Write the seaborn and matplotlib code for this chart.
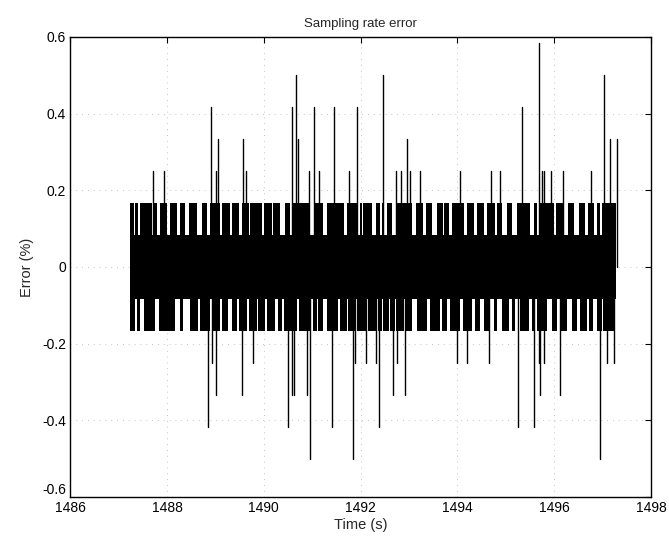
import numpy as np
import pandas as pd
import matplotlib
matplotlib.use("Agg")
import matplotlib.pyplot as plt
import matplotlib.transforms as mtransforms
import seaborn as sns

# quantisation levels (%)
core_level = 0.0833
band_level = 0.1667
t_start = 1487.24
t_end = 1497.28

# time spans where the error reaches +band_level
upper_blocks = [
    (1487.24, 1487.31), (1487.34, 1487.41), (1487.45, 1487.69), (1487.74, 1487.79),
    (1487.86, 1488.00), (1488.07, 1488.20), (1488.27, 1488.38), (1488.45, 1488.62),
    (1488.72, 1488.82), (1488.89, 1489.10), (1489.13, 1489.31), (1489.34, 1489.48),
    (1489.55, 1489.69), (1489.72, 1489.96), (1490.01, 1490.17), (1490.20, 1490.34),
    (1490.44, 1490.55), (1490.58, 1490.96), (1491.03, 1491.23), (1491.30, 1491.65),
    (1491.72, 1491.92), (1491.99, 1492.03), (1492.06, 1492.23), (1492.32, 1492.41),
    (1492.44, 1492.47), (1492.54, 1492.65), (1492.74, 1493.06), (1493.15, 1493.30),
    (1493.36, 1493.47), (1493.58, 1493.70), (1493.73, 1493.82), (1493.89, 1494.13),
    (1494.19, 1494.34), (1494.41, 1494.55), (1494.61, 1494.78), (1494.82, 1494.92),
    (1495.02, 1495.13), (1495.24, 1495.50), (1495.59, 1495.65), (1495.70, 1495.99),
    (1496.03, 1496.18), (1496.28, 1496.42), (1496.52, 1496.64), (1496.70, 1496.82),
    (1496.88, 1496.95), (1496.99, 1497.28),
]

# time spans where the error reaches -band_level
lower_blocks = [
    (1487.24, 1487.34), (1487.38, 1487.45), (1487.52, 1487.76), (1487.83, 1488.17),
    (1488.26, 1488.34), (1488.48, 1488.65), (1488.69, 1488.89), (1488.93, 1489.10),
    (1489.13, 1489.27), (1489.34, 1489.44), (1489.48, 1489.65), (1489.69, 1489.86),
    (1489.89, 1490.03), (1490.06, 1490.24), (1490.30, 1490.37), (1490.41, 1490.68),
    (1490.72, 1490.96), (1491.01, 1491.10), (1491.13, 1491.23), (1491.30, 1491.54),
    (1491.58, 1491.72), (1491.75, 1491.89), (1491.92, 1492.13), (1492.16, 1492.34),
    (1492.37, 1492.44), (1492.47, 1492.58), (1492.61, 1492.71), (1492.74, 1492.89),
    (1492.94, 1493.06), (1493.16, 1493.37), (1493.44, 1493.64), (1493.68, 1493.78),
    (1493.85, 1494.06), (1494.11, 1494.30), (1494.37, 1494.47), (1494.54, 1494.68),
    (1494.75, 1494.82), (1494.92, 1495.06), (1495.13, 1495.19), (1495.30, 1495.47),
    (1495.54, 1495.61), (1495.64, 1495.85), (1495.95, 1496.06), (1496.12, 1496.26),
    (1496.36, 1496.47), (1496.54, 1496.68), (1496.71, 1496.81), (1496.88, 1496.98),
    (1497.00, 1497.26),
]

# isolated outliers beyond the band
spike_times = [
    1487.72, 1487.93, 1488.91, 1489.02, 1489.06, 1489.58, 1489.64, 1490.58,
    1490.67, 1490.70, 1490.94, 1491.04, 1491.14, 1491.46, 1491.77, 1491.92,
    1492.47, 1492.73, 1492.83, 1492.96, 1493.02, 1493.23, 1494.06, 1494.69,
    1494.88, 1495.33, 1495.68, 1495.75, 1495.80, 1495.93, 1496.18, 1496.76,
    1497.04, 1497.16, 1497.29,
    1488.84, 1488.93, 1489.02, 1489.55, 1489.77, 1490.51, 1490.58, 1490.63,
    1490.89, 1490.96, 1491.40, 1491.85, 1491.89, 1492.12, 1492.32, 1492.38,
    1492.67, 1492.76, 1492.91, 1494.00, 1494.20, 1494.66, 1495.25, 1495.59,
    1495.68, 1495.70, 1495.78, 1496.13, 1496.95, 1497.10, 1497.24,
]
spike_values = [
    0.25, 0.25, 0.417, 0.25, 0.333, 0.333, 0.25, 0.417,
    0.5, 0.333, 0.25, 0.417, 0.25, 0.417, 0.25, 0.417,
    0.5, 0.25, 0.25, 0.333, 0.25, 0.25, 0.25, 0.25,
    0.25, 0.417, 0.583, 0.25, 0.25, 0.25, 0.25, 0.25,
    0.5, 0.333, 0.333,
    -0.417, -0.25, -0.333, -0.333, -0.25, -0.417, -0.333, -0.333,
    -0.333, -0.5, -0.417, -0.5, -0.25, -0.25, -0.25, -0.417,
    -0.333, -0.25, -0.333, -0.25, -0.25, -0.25, -0.417, -0.417,
    -0.25, -0.333, -0.25, -0.333, -0.5, -0.25, -0.25,
]

x_ticks = [1486, 1488, 1490, 1492, 1494, 1496, 1498]
y_ticks = [-0.6, -0.4, -0.2, 0, 0.2, 0.4, 0.6]
y_tick_labels = ["-0.6", "-0.4", "-0.2", "0", "0.2", "0.4", "0.6"]

sns.set_style("white")
plt.rcParams["font.family"] = ["Liberation Sans", "DejaVu Sans"]
plt.rcParams["axes.unicode_minus"] = False

fig = plt.figure(figsize=(6.69, 5.36), dpi=100)
ax = fig.add_axes([0.105, 0.073, 0.868, 0.858])

# solid core of the signal
ax.fill_between([t_start, t_end], -core_level, core_level, color="black", lw=0)

up = pd.DataFrame(upper_blocks, columns=["t0", "t1"])
lo = pd.DataFrame(lower_blocks, columns=["t0", "t1"])
ax.bar(x=up["t0"], height=band_level - core_level, width=up["t1"] - up["t0"],
       bottom=core_level, align="edge", color="black", lw=0)
ax.bar(x=lo["t0"], height=band_level - core_level, width=lo["t1"] - lo["t0"],
       bottom=-band_level, align="edge", color="black", lw=0)

spikes = pd.DataFrame({
    "spike": np.repeat(np.arange(len(spike_times)), 2),
    "time": np.repeat(spike_times, 2),
    "error": np.column_stack([np.zeros(len(spike_values)), spike_values]).ravel(),
})
sns.lineplot(data=spikes, x="time", y="error", units="spike", estimator=None,
             color="black", linewidth=1.0, ax=ax)

ax.set_xlim(1486, 1498)
ax.set_ylim(-0.6, 0.6)
ax.set_xticks(x_ticks)
ax.set_yticks(y_ticks)
ax.set_yticklabels(y_tick_labels)
ax.grid(True, linestyle=(0, (1, 6)), color="#b0b0b0", linewidth=0.6)
ax.set_axisbelow(True)
ax.tick_params(direction="in", length=4, top=True, right=True,
               labelsize=10, colors="black")
ax.tick_params(axis="x", pad=3)
ax.tick_params(axis="y", pad=3)
for s in ax.spines.values():
    s.set_color("black")
    s.set_linewidth(1.0)

# lift the bottom y label clear of the first x label, as in the original
shift = mtransforms.ScaledTranslation(0, 6 / 72, fig.dpi_scale_trans)
bottom_label = ax.get_yticklabels()[0]
bottom_label.set_transform(bottom_label.get_transform() + shift)

ax.set_title("Sampling rate error", fontsize=9.5, pad=7)
ax.set_xlabel("Time (s)", fontsize=10.5, labelpad=2)
ax.set_ylabel("Error (%)", fontsize=10.5, labelpad=6)

fig.savefig("out.png", dpi=100)
